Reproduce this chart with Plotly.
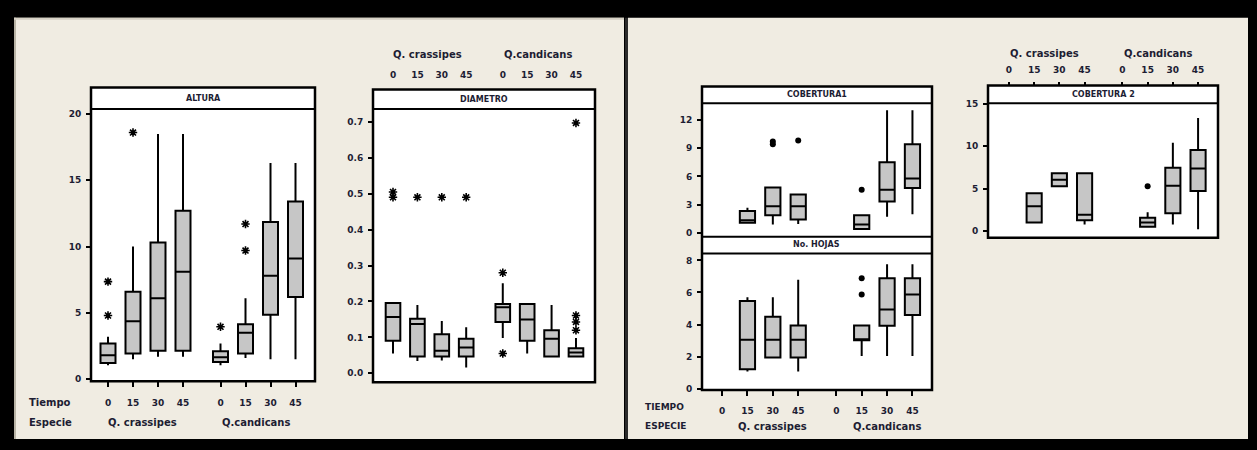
import plotly.graph_objects as go

W, H = 1257, 450

# ---------------- data ----------------
time_labels = ["0", "15", "30", "45"]
species = ["Q. crassipes", "Q.candicans"]

altura_q1 = [1.23, 1.93, 2.15, 2.15, 1.3, 1.93, 4.86, 6.2]
altura_med = [1.8, 4.37, 6.1, 8.1, 1.65, 3.5, 7.8, 9.1]
altura_q3 = [2.7, 6.6, 10.3, 12.7, 2.1, 4.15, 11.85, 13.4]
altura_lo = [1.06, 1.5, 1.7, 1.7, 1.06, 1.6, 1.5, 1.5]
altura_hi = [3.2, 10.0, 18.5, 18.5, 2.7, 6.1, 16.3, 16.3]
altura_out = [[4.8, 7.36], [18.6], [], [], [3.95], [9.7, 11.7], [], []]

diam_q1 = [0.091, 0.047, 0.047, 0.047, 0.143, 0.091, 0.047, 0.047]
diam_med = [0.157, 0.137, 0.063, 0.072, 0.184, 0.15, 0.096, 0.058]
diam_q3 = [0.196, 0.152, 0.109, 0.096, 0.193, 0.193, 0.12, 0.07]
diam_lo = [0.055, 0.034, 0.036, 0.016, 0.098, 0.055, 0.047, 0.047]
diam_hi = [0.196, 0.19, 0.146, 0.128, 0.251, 0.193, 0.19, 0.098]
diam_out = [[0.49, 0.505], [0.49], [0.49], [0.49], [0.055, 0.28], [], [], [0.12, 0.143, 0.161, 0.697]]

cob1_q1 = [None, 1.1, 1.9, 1.45, None, 0.45, 3.36, 4.78]
cob1_med = [None, 1.38, 2.84, 2.84, None, 0.93, 4.6, 5.78]
cob1_q3 = [None, 2.35, 4.84, 4.08, None, 1.9, 7.5, 9.4]
cob1_lo = [None, 1.1, 0.93, 0.97, None, 0.45, 1.73, 2.0]
cob1_hi = [None, 2.7, 4.84, 4.08, None, 1.9, 13.0, 13.0]
cob1_out = [[], [], [9.4, 9.7], [9.8], [], [4.6], [], []]

hojas_q1 = [None, 1.22, 1.94, 1.94, None, 3.02, 3.92, 4.6]
hojas_med = [None, 3.06, 3.06, 3.06, None, 3.02, 4.94, 5.88]
hojas_q3 = [None, 5.47, 4.49, 3.94, None, 3.94, 6.88, 6.88]
hojas_lo = [None, 1.08, 1.94, 1.08, None, 2.04, 2.04, 2.04]
hojas_hi = [None, 5.7, 5.7, 6.8, None, 3.94, 7.76, 7.76]
hojas_out = [[], [], [], [], [], [5.88, 6.88], [], []]

cob2_q1 = [None, 1.0, 5.27, 1.26, None, 0.5, 2.1, 4.7]
cob2_med = [None, 2.9, 6.03, 1.9, None, 1.0, 5.34, 7.37]
cob2_q3 = [None, 4.43, 6.8, 6.8, None, 1.56, 7.44, 9.54]
cob2_lo = [None, 1.0, 5.27, 0.76, None, 0.5, 0.76, 0.19]
cob2_hi = [None, 4.43, 6.8, 6.8, None, 2.2, 10.4, 13.3]
cob2_out = [[], [], [], [], [], [5.27], [], []]

# category slots: 4 times per species, gap between species
pos = [g * 4.5 + t for g in range(2) for t in range(4)]
tick_text = time_labels * 2

BEIGE = "#F0ECE2"
FONT = "DejaVu Sans"
TXT = "#1d1d33"


def fx(p):
    return p / W


def fy(p):
    return 1 - p / H


fig = go.Figure()


def add_boxes(xa, ya, q1, med, q3, lo, hi, out, sym, msize):
    for i, p in enumerate(pos):
        if q1[i] is not None:
            fig.add_trace(go.Box(
                x=[p], q1=[q1[i]], median=[med[i]], q3=[q3[i]],
                lowerfence=[lo[i]], upperfence=[hi[i]],
                width=0.6, whiskerwidth=0, boxpoints=False,
                fillcolor="#C6C6C6", line=dict(color="black", width=2),
                xaxis=xa, yaxis=ya, showlegend=False, hoverinfo="skip"))
    ox, oy = [], []
    for i, p in enumerate(pos):
        for v in out[i]:
            ox.append(p)
            oy.append(v)
    if sym == "asterisk":
        mk = dict(symbol="asterisk-open", size=msize, color="black",
                  line=dict(color="black", width=1.6))
    else:
        mk = dict(symbol="circle", size=msize, color="black",
                  line=dict(color="black", width=0))
    fig.add_trace(go.Scatter(x=ox, y=oy, mode="markers", marker=mk,
                             xaxis=xa, yaxis=ya, showlegend=False, hoverinfo="skip"))


add_boxes("x", "y", altura_q1, altura_med, altura_q3, altura_lo, altura_hi, altura_out, "asterisk", 7)
add_boxes("x2", "y2", diam_q1, diam_med, diam_q3, diam_lo, diam_hi, diam_out, "asterisk", 7)
add_boxes("x3", "y3", cob1_q1, cob1_med, cob1_q3, cob1_lo, cob1_hi, cob1_out, "dot", 6)
add_boxes("x4", "y4", hojas_q1, hojas_med, hojas_q3, hojas_lo, hojas_hi, hojas_out, "dot", 6)
add_boxes("x5", "y5", cob2_q1, cob2_med, cob2_q3, cob2_lo, cob2_hi, cob2_out, "dot", 6)

tickfont = dict(family=FONT, size=9, color=TXT, weight="bold")


def yax(dom_top, dom_bot, rng, tv, tt, anchor):
    return dict(domain=[fy(dom_bot), fy(dom_top)], range=rng, tickvals=tv, ticktext=tt,
                ticks="outside", ticklen=4, tickwidth=2, tickcolor="black",
                showgrid=False, zeroline=False, showline=False, tickfont=tickfont,
                anchor=anchor, fixedrange=True, ticklabelstandoff=3)


def xax(left, right, rng, anchor, **kw):
    d = dict(domain=[fx(left), fx(right)], range=rng, tickvals=pos, ticktext=tick_text,
             showgrid=False, zeroline=False, showline=False, tickfont=tickfont,
             tickcolor="black", tickwidth=2, anchor=anchor, fixedrange=True)
    d.update(kw)
    return d


layout = dict(
    width=W, height=H, margin=dict(l=0, r=0, t=0, b=0),
    paper_bgcolor="black", plot_bgcolor="rgba(0,0,0,0)",
    boxmode="overlay", showlegend=False,
    xaxis=xax(91, 315, [-0.68, 8.28], "y", ticks="outside", ticklen=5,
              ticklabelstandoff=8),
    yaxis=yax(107, 384, [-0.15, 20.37], [0, 5, 10, 15, 20], ["0", "5", "10", "15", "20"], "x"),
    xaxis2=xax(373, 595, [-0.82, 8.28], "free", side="top", position=fy(87),
               ticks="", ticklabelstandoff=10),
    yaxis2=yax(107, 385, [-0.0246, 0.7356], [0, 0.1, 0.2, 0.3, 0.4, 0.5, 0.6, 0.7],
               ["0.0", "0.1", "0.2", "0.3", "0.4", "0.5", "0.6", "0.7"], "x2"),
    xaxis3=xax(702, 932, [-0.79, 8.27], "y3", visible=False),
    yaxis3=yax(101, 237, [-0.38, 13.74], [0, 3, 6, 9, 12], ["0", "3", "6", "9", "12"], "x3"),
    xaxis4=xax(702, 932, [-0.79, 8.27], "y4", ticks="outside", ticklen=5,
               ticklabelstandoff=7),
    yaxis4=yax(254, 393, [-0.08, 8.43], [0, 2, 4, 6, 8], ["0", "2", "4", "6", "8"], "x4"),
    xaxis5=xax(988, 1218, [-0.83, 8.29], "free", side="top", position=fy(83),
               ticks="outside", ticklen=4, ticklabelstandoff=5),
    yaxis5=yax(101, 238, [-0.8, 15.05], [0, 5, 10, 15], ["0", "5", "10", "15"], "x5"),
)

shapes = []


def rect(x0, y0, x1, y1, fill=None, lw=0, lc="black", layer="below"):
    shapes.append(dict(type="rect", xref="paper", yref="paper",
                       x0=fx(x0), x1=fx(x1), y0=fy(y1), y1=fy(y0),
                       fillcolor=fill if fill else "rgba(0,0,0,0)",
                       line=dict(width=lw, color=lc), layer=layer))


def hline(x0, x1, y, lw=2):
    shapes.append(dict(type="line", xref="paper", yref="paper",
                       x0=fx(x0), x1=fx(x1), y0=fy(y), y1=fy(y),
                       line=dict(width=lw, color="black"), layer="above"))


# background windows
rect(14, 14, 624, 443, fill=BEIGE)
rect(628, 14, 1248, 443, fill=BEIGE)
rect(625, 14, 628, 443, fill="#2b2b2b")
rect(14, 14, 16, 443, fill="#b9b4a6")
rect(14, 14, 624, 16, fill="#d6d1c4")

# panels: (left, right, top, strip bottom, bottom)
panels = [(91, 315, 85, 107, 384), (373, 595, 87, 107, 385),
          (702, 932, 84, 101, 393), (988, 1218, 83, 101, 238)]
for (l, r, t, sb, b) in panels:
    rect(l, t, r, b, fill="white")
for (l, r, t, sb, b) in panels:
    rect(l, t, r, b, lw=2.5, layer="above")
    hline(l, r, sb)
# second strip for No. HOJAS
hline(702, 932, 237)
hline(702, 932, 254)

layout["shapes"] = shapes

ann = []


def text(s, x, y, anchor="center", size=10):
    ann.append(dict(text=s, x=fx(x), y=fy(y), xref="paper", yref="paper",
                    showarrow=False, xanchor=anchor, yanchor="middle",
                    font=dict(family=FONT, size=size, color=TXT, weight="bold")))


text("ALTURA", 203, 96, size=8)
text("DIAMETRO", 484, 97, size=8)
text("COBERTURA1", 817, 92, size=8)
text("No. HOJAS", 817, 245, size=8)
text("COBERTURA 2", 1103, 92, size=8)

text("Tiempo", 27, 406, "left")
text("Especie", 27, 426, "left")
text(species[0], 142, 426)
text(species[1], 256, 426)

text(species[0], 427, 51)
text(species[1], 538, 51)

text("TIEMPO", 643, 410, "left", size=9)
text("ESPECIE", 643, 430, "left", size=9)
text(species[0], 772, 430)
text(species[1], 887, 430)

text(species[0], 1044, 50)
text(species[1], 1158, 50)

layout["annotations"] = ann
fig.update_layout(**layout)
fig.write_html("out.html")
